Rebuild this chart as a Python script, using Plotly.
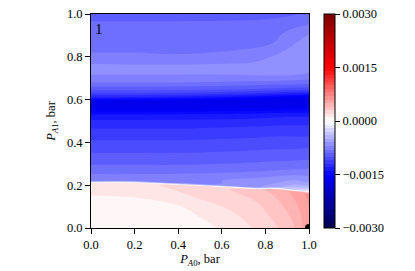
import plotly.graph_objects as go

# grid
p_a0 = [0.0, 0.2, 0.4, 0.6, 0.75, 0.85, 0.93, 1.0]
p_a1 = [0.00, 0.05, 0.10, 0.15, 0.16, 0.17, 0.18, 0.19, 0.20, 0.21, 0.22, 0.23,
        0.27, 0.32, 0.38, 0.44, 0.47, 0.50, 0.53, 0.55, 0.57, 0.59, 0.61, 0.63,
        0.65, 0.68, 0.72, 0.76, 0.80, 0.85, 0.90, 0.95, 1.00]

row_000 = [3e-5, 4e-5, 6e-5, 1.05e-4, 2.1e-4, 2.9e-4, 3.9e-4, 5.8e-4]
row_005 = [4e-5, 5e-5, 7e-5, 1.3e-4, 2.5e-4, 3.2e-4, 4.2e-4, 5.8e-4]
row_010 = [6e-5, 7e-5, 9e-5, 2.0e-4, 2.7e-4, 3.6e-4, 4.6e-4, 6.0e-4]
row_015 = [9.7e-5, 1.05e-4, 1.8e-4, 2.5e-4, 3.2e-4, 4.1e-4, 5.1e-4, 6.2e-4]
row_016 = [1.1e-4, 1.2e-4, 1.9e-4, 2.6e-4, 3.4e-4, 4.2e-4, 5.2e-4, 6.3e-4]
row_017 = [1.2e-4, 1.3e-4, 2.0e-4, 2.7e-4, 3.5e-4, 4.3e-4, 5.3e-4, -1.0e-4]
row_018 = [1.3e-4, 1.4e-4, 2.1e-4, 2.8e-4, 3.6e-4, 4.4e-4, -3.0e-4, -2.5e-4]
row_019 = [1.4e-4, 1.5e-4, 2.2e-4, 2.9e-4, -6.2e-4, -5.2e-4, -4.0e-4, -4.0e-4]
row_020 = [1.5e-4, 1.6e-4, 2.3e-4, -7.0e-4, -6.4e-4, -5.6e-4, -4.8e-4, -5.0e-4]
row_021 = [1.6e-4, 1.7e-4, -7.2e-4, -7.0e-4, -6.6e-4, -6.0e-4, -5.4e-4, -5.7e-4]
row_022 = [-7.3e-4, -7.3e-4, -7.2e-4, -7.0e-4, -6.7e-4, -6.2e-4, -5.8e-4, -6.3e-4]
row_023 = [-7.4e-4, -7.4e-4, -7.3e-4, -7.1e-4, -6.9e-4, -6.6e-4, -6.3e-4, -6.6e-4]
row_027 = [-8.5e-4, -8.5e-4, -8.5e-4, -8.4e-4, -8.2e-4, -8.0e-4, -7.9e-4, -7.8e-4]
row_032 = [-9.5e-4, -9.5e-4, -9.5e-4, -9.4e-4, -9.3e-4, -9.2e-4, -9.1e-4, -9.0e-4]
row_038 = [-1.05e-3, -1.05e-3, -1.05e-3, -1.04e-3, -1.03e-3, -1.02e-3, -1.02e-3, -1.01e-3]
row_044 = [-1.15e-3, -1.15e-3, -1.15e-3, -1.14e-3, -1.13e-3, -1.12e-3, -1.12e-3, -1.12e-3]
row_047 = [-1.21e-3, -1.21e-3, -1.21e-3, -1.20e-3, -1.19e-3, -1.18e-3, -1.18e-3, -1.18e-3]
row_050 = [-1.28e-3, -1.28e-3, -1.28e-3, -1.27e-3, -1.26e-3, -1.25e-3, -1.24e-3, -1.24e-3]
row_053 = [-1.40e-3, -1.40e-3, -1.39e-3, -1.38e-3, -1.36e-3, -1.34e-3, -1.33e-3, -1.33e-3]
row_055 = [-1.55e-3, -1.55e-3, -1.55e-3, -1.54e-3, -1.52e-3, -1.50e-3, -1.49e-3, -1.49e-3]
row_057 = [-1.68e-3, -1.68e-3, -1.68e-3, -1.68e-3, -1.68e-3, -1.68e-3, -1.68e-3, -1.68e-3]
row_059 = [-1.68e-3, -1.68e-3, -1.68e-3, -1.69e-3, -1.70e-3, -1.70e-3, -1.70e-3, -1.70e-3]
row_061 = [-1.30e-3, -1.32e-3, -1.35e-3, -1.42e-3, -1.48e-3, -1.54e-3, -1.58e-3, -1.60e-3]
row_063 = [-1.10e-3, -1.10e-3, -1.12e-3, -1.15e-3, -1.20e-3, -1.24e-3, -1.28e-3, -1.30e-3]
row_065 = [-9.5e-4, -9.5e-4, -9.6e-4, -9.8e-4, -1.0e-3, -1.02e-3, -1.04e-3, -1.05e-3]
row_068 = [-8.0e-4, -8.0e-4, -8.0e-4, -8.1e-4, -8.2e-4, -8.3e-4, -8.4e-4, -8.5e-4]
row_072 = [-6.9e-4, -6.9e-4, -6.9e-4, -6.9e-4, -6.8e-4, -6.7e-4, -6.8e-4, -7.1e-4]
row_076 = [-6.8e-4, -6.9e-4, -6.9e-4, -6.8e-4, -6.7e-4, -6.6e-4, -6.5e-4, -6.5e-4]
row_080 = [-7.8e-4, -7.8e-4, -7.9e-4, -7.8e-4, -7.5e-4, -6.8e-4, -6.6e-4, -6.5e-4]
row_085 = [-8.3e-4, -8.3e-4, -8.3e-4, -8.2e-4, -8.1e-4, -7.9e-4, -6.9e-4, -6.6e-4]
row_090 = [-8.6e-4, -8.6e-4, -8.6e-4, -8.5e-4, -8.3e-4, -8.1e-4, -7.6e-4, -6.9e-4]
row_095 = [-8.7e-4, -8.7e-4, -8.7e-4, -8.7e-4, -8.7e-4, -8.5e-4, -8.2e-4, -8.0e-4]
row_100 = [-9.6e-4, -9.6e-4, -9.6e-4, -9.5e-4, -9.4e-4, -9.3e-4, -9.1e-4, -8.8e-4]

z_rows = [row_000, row_005, row_010, row_015, row_016, row_017, row_018, row_019,
          row_020, row_021, row_022, row_023, row_027, row_032, row_038, row_044,
          row_047, row_050, row_053, row_055, row_057, row_059, row_061, row_063,
          row_065, row_068, row_072, row_076, row_080, row_085, row_090, row_095,
          row_100]

cbar_ticks = [-0.003, -0.0015, 0.0, 0.0015, 0.003]
cbar_text = ["\u22120.0030", "\u22120.0015", "0.0000", "0.0015", "0.0030"]
axis_ticks = [0.0, 0.2, 0.4, 0.6, 0.8, 1.0]
corner_x = [1.0]
corner_y = [0.0]

seismic = [[0.0, "rgb(0,0,76)"], [0.25, "rgb(0,0,255)"], [0.5, "rgb(255,255,255)"],
           [0.75, "rgb(255,0,0)"], [1.0, "rgb(127,0,0)"]]

FONT = "Liberation Serif"
FS = 12.5

fig = go.Figure()
fig.add_trace(go.Contour(
    x=p_a0, y=p_a1, z=z_rows,
    zmin=-0.003, zmax=0.003, autocontour=False,
    contours=dict(start=-0.003, end=0.003, size=0.0001, coloring="fill", showlines=False),
    line=dict(width=0),
    colorscale=seismic,
    colorbar=dict(
        x=1.069, xanchor="left", y=0.5, yanchor="middle",
        len=1.0, thickness=11, xpad=0, ypad=0,
        outlinewidth=1, outlinecolor="black",
        ticks="outside", ticklen=5, tickwidth=1, tickcolor="black",
        tickvals=cbar_ticks, ticktext=cbar_text, ticklabeloverflow="allow",
        tickfont=dict(family=FONT, size=FS, color="black"),
    ),
    hoverinfo="skip",
))
fig.add_trace(go.Scatter(
    x=corner_x, y=corner_y, mode="markers",
    marker=dict(color="black", size=8), cliponaxis=True, showlegend=False,
))

axis_common = dict(
    range=[0, 1], tickvals=axis_ticks, tickformat=".1f",
    ticks="outside", ticklen=5, tickwidth=1, tickcolor="black",
    showline=True, mirror=True, linecolor="black", linewidth=1,
    showgrid=False, zeroline=False, ticklabeloverflow="allow",
    tickfont=dict(family=FONT, size=FS, color="black"),
)
fig.update_xaxes(**axis_common,
                 title=dict(text="<i>P</i><sub><i>A</i>0</sub>, bar", standoff=3,
                            font=dict(family=FONT, size=FS, color="black")))
fig.update_yaxes(**axis_common,
                 title=dict(text="<i>P</i><sub><i>A</i>1</sub>, bar", standoff=8,
                            font=dict(family=FONT, size=FS, color="black")))

fig.add_annotation(x=0.01, y=0.975, xref="x", yref="y", text="1", showarrow=False,
                   xanchor="left", yanchor="top",
                   font=dict(family=FONT, size=15, color="black"))

# page body adds an 8 px offset, so the figure is 8 px smaller and margins shifted
fig.update_layout(
    width=407, height=263,
    margin=dict(l=83, r=106, t=6, b=43, autoexpand=False),
    paper_bgcolor="white", plot_bgcolor="white",
    showlegend=False,
)

fig.write_html("out.html")
